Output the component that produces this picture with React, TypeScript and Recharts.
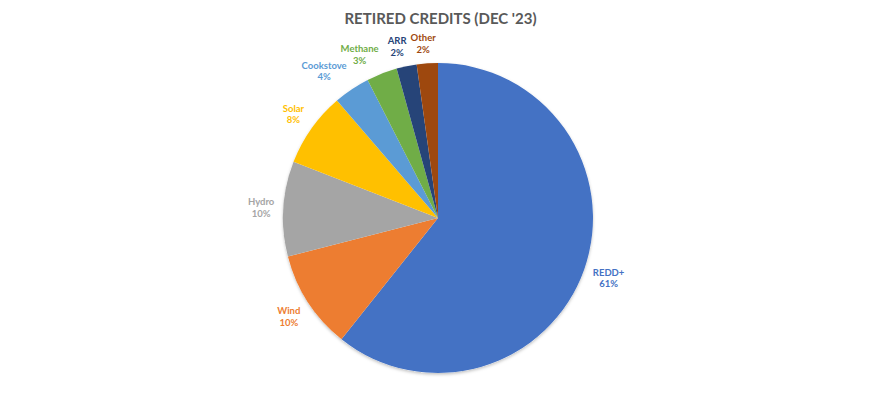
import React from 'react'
import { PieChart, Pie, Cell } from 'recharts'

const categories = ['REDD+', 'Wind', 'Hydro', 'Solar', 'Cookstove', 'Methane', 'ARR', 'Other']
const shares = [60.7, 10.3, 9.9, 7.8, 3.8, 3.2, 2.1, 2.2]
const colors = ['#4472C4', '#ED7D31', '#A5A5A5', '#FFC000', '#5B9BD5', '#70AD47', '#264478', '#9E480E']

const data = categories.map((name, i) => ({ name, value: shares[i] }))

const FONT = 'Lato, "DejaVu Sans", sans-serif'
const LABEL_SIZE = 9.5

if (typeof document !== 'undefined') document.body.style.margin = '0'

let ctx: CanvasRenderingContext2D | null = null
function textWidth(s: string) {
  if (!ctx) ctx = document.createElement('canvas').getContext('2d')
  if (!ctx) return s.length * 5
  ctx.font = `700 ${LABEL_SIZE}px ${FONT}`
  return ctx.measureText(s).width
}

const clamp = (v: number) => Math.max(-1, Math.min(1, v))

// Excel-ish "best fit": nearest corner of the label box sits just outside the slice
function renderLabel(p: any) {
  const { cx, cy, midAngle, outerRadius, percent, name, index } = p
  const rad = (midAngle * Math.PI) / 180
  const ux = Math.cos(rad)
  const uy = -Math.sin(rad)
  const r = outerRadius + 9
  const pct = `${Math.round(percent * 100)}%`
  const w = Math.max(textWidth(name), textWidth(pct))
  const h = 22
  const x = cx + r * ux + clamp(ux * 4) * (w / 2)
  const y = cy + r * uy + clamp(uy * 1.5) * (h / 2)
  return (
    <text
      x={x}
      y={y}
      textAnchor="middle"
      fill={colors[index]}
      fontFamily={FONT}
      fontSize={LABEL_SIZE}
      fontWeight={700}
    >
      <tspan x={x} y={y - 2}>{name}</tspan>
      <tspan x={x} y={y + 9.5}>{pct}</tspan>
    </text>
  )
}

export default function App() {
  // PieChart adds its 5px default margin to numeric cx / cy
  const cx = 433
  const cy = 213
  return (
    <div style={{ position: 'relative', width: 877, height: 407, background: '#fff' }}>
      <div
        style={{
          position: 'absolute',
          top: 9,
          left: 0,
          width: 877,
          textAlign: 'center',
          fontFamily: FONT,
          fontWeight: 700,
          fontSize: 15,
          color: '#595959',
          paddingLeft: 2,
        }}
      >
        RETIRED CREDITS (DEC '23)
      </div>
      <PieChart width={877} height={407} style={{ position: 'absolute', top: 0, left: 0 }}>
        <defs>
          <filter id="pieShadow" x="-10%" y="-10%" width="120%" height="120%">
            <feDropShadow dx="0" dy="1.5" stdDeviation="1.5" floodColor="#000" floodOpacity="0.25" />
          </filter>
        </defs>
        <Pie
          data={[{ name: 'shadow', value: 1 }]}
          dataKey="value"
          cx={cx}
          cy={cy}
          outerRadius={155}
          fill="#fff"
          stroke="none"
          isAnimationActive={false}
          style={{ filter: 'url(#pieShadow)' }}
        />
        <Pie
          data={data}
          dataKey="value"
          nameKey="name"
          cx={cx}
          cy={cy}
          outerRadius={155}
          startAngle={90}
          endAngle={-270}
          stroke="none"
          label={renderLabel}
          labelLine={false}
          isAnimationActive={false}
        >
          {data.map((d, i) => (
            <Cell key={d.name} fill={colors[i]} />
          ))}
        </Pie>
      </PieChart>
    </div>
  )
}
